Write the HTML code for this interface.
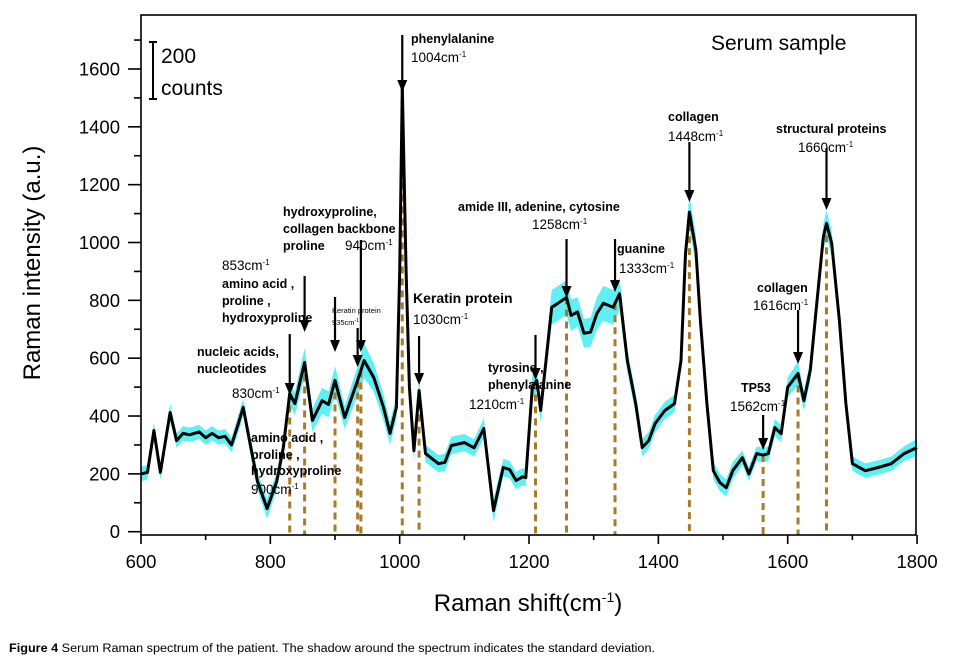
<!DOCTYPE html>
<html><head><meta charset="utf-8"><style>
body{margin:0;background:#fff}
svg{display:block;font-family:"Liberation Sans",Arial,sans-serif}
.b{font-weight:bold;font-size:12.5px}
.n{font-size:13.5px}
</style></head><body>
<svg id="chart" width="964" height="668" viewBox="0 0 964 668">
<g id="band"></g>
<g id="dashes"></g>
<g id="line"></g>
<rect x="141" y="15" width="775" height="520" fill="none" stroke="#000" stroke-width="1.6"/>
<g id="axes"></g>
<g id="ann"></g>
<text x="711" y="50" font-size="21">Serum sample</text>
<g>
<line x1="153" y1="42" x2="153" y2="99" stroke="#000" stroke-width="2"/>
<line x1="149" y1="42" x2="157" y2="42" stroke="#000" stroke-width="2"/>
<line x1="149" y1="99" x2="157" y2="99" stroke="#000" stroke-width="2"/>
<text x="161" y="63" font-size="21">200</text>
<text x="161" y="95" font-size="21">counts</text>
</g>
<text transform="translate(40,263) rotate(-90)" text-anchor="middle" font-size="24">Raman intensity (a.u.)</text>
<text x="528" y="611" text-anchor="middle" font-size="24">Raman shift(cm<tspan dy="-9" font-size="14">-1</tspan><tspan dy="9">)</tspan></text>
<text x="9" y="652" font-size="11.5" textLength="646" lengthAdjust="spacingAndGlyphs"><tspan font-weight="bold">Figure 4</tspan> Serum Raman spectrum of the patient. The shadow around the spectrum indicates the standard deviation.</text>
</svg>
<script>
const shifts=[600,610,620,630,645,655,665,675,690,700,710,720,730,740,750,758,770,780,795,810,820,830,838,853,865,880,890,900,915,935,945,960,975,985,995,1000,1004,1010,1015,1022,1030,1040,1060,1070,1080,1100,1115,1130,1145,1160,1170,1180,1190,1195,1205,1212,1218,1228,1235,1245,1258,1265,1275,1285,1295,1305,1315,1330,1340,1352,1365,1375,1385,1395,1410,1425,1435,1442,1448,1458,1465,1475,1485,1495,1505,1515,1530,1540,1552,1562,1570,1580,1590,1600,1616,1625,1635,1645,1655,1660,1668,1680,1690,1700,1720,1740,1760,1780,1800];
const intensity=[200,205,350,205,412,315,340,335,345,325,340,325,330,300,370,430,290,175,80,175,290,478,443,585,385,453,440,523,395,523,592,533,430,340,430,900,1540,900,500,280,488,270,235,240,298,308,290,357,73,222,215,177,190,187,500,523,419,627,776,790,810,748,760,686,690,755,790,776,823,592,443,291,315,374,419,443,592,962,1105,973,730,443,211,170,152,211,256,200,270,265,270,360,339,500,547,453,558,790,1018,1066,997,730,443,235,211,222,235,270,291];
const stdev=[25,25,30,25,30,25,25,25,25,25,25,25,25,25,30,30,30,30,35,30,30,40,40,50,40,45,45,50,40,50,60,50,45,40,40,80,120,80,50,35,40,30,30,30,30,30,30,35,40,30,30,30,30,30,40,40,40,50,60,60,60,55,50,50,50,55,60,60,55,40,35,30,30,30,30,30,35,50,60,50,40,30,30,30,30,30,25,25,25,25,25,30,30,35,40,35,35,40,45,45,45,40,30,25,25,25,25,25,30];
const xTicks=[600,800,1000,1200,1400,1600,1800];
const yTicks=[0,200,400,600,800,1000,1200,1400,1600];
const peaks=[830,853,900,935,940,1004,1030,1210,1258,1333,1448,1562,1616,1660];
const NS='http://www.w3.org/2000/svg';
const X=v=>141+(v-600)*0.6467;
const Y=v=>531.7-v*0.2892;
function mk(tag,attrs,parent){const e=document.createElementNS(NS,tag);for(const k in attrs)e.setAttribute(k,attrs[k]);parent.appendChild(e);return e;}
function interp(v){for(let i=0;i<shifts.length-1;i++){if(v>=shifts[i]&&v<=shifts[i+1]){const t=(v-shifts[i])/(shifts[i+1]-shifts[i]);return intensity[i]+t*(intensity[i+1]-intensity[i]);}}return 0;}
const up=shifts.map((s,i)=>X(s).toFixed(1)+','+Y(intensity[i]+stdev[i]).toFixed(1));
const dn=shifts.map((s,i)=>X(s).toFixed(1)+','+Y(intensity[i]-stdev[i]).toFixed(1)).reverse();
const band=mk('polygon',{points:up.concat(dn).join(' '),fill:'#5ff0f5'},document.getElementById('band'));


const ln=mk('polyline',{points:shifts.map((s,i)=>X(s).toFixed(1)+','+Y(intensity[i]).toFixed(1)).join(' '),fill:'none',stroke:'#000','stroke-width':3,'stroke-linejoin':'round'},document.getElementById('line'));


const dg=document.getElementById('dashes');
peaks.forEach(p=>{const d=mk('line',{x1:X(p),x2:X(p),y1:Y(interp(p)),y2:535,stroke:'#a67c2a','stroke-width':3,'stroke-dasharray':'7,5'},dg);

});
const ax=document.getElementById('axes');


for(let v=600;v<=1800;v+=100){const maj=v%200===0;mk('line',{x1:X(v),x2:X(v),y1:535,y2:maj?544:540,stroke:'#000','stroke-width':1.6},ax);}
xTicks.forEach(v=>{const t=mk('text',{x:X(v),y:568,'text-anchor':'middle','font-size':18.5},ax);t.textContent=v;

});
for(let v=0;v<=1700;v+=100){const maj=v%200===0;mk('line',{x1:maj?128:134,x2:141,y1:Y(v),y2:Y(v),stroke:'#000','stroke-width':1.6},ax);}
yTicks.forEach(v=>{const t=mk('text',{x:120,y:Y(v)+6.5,'text-anchor':'end','font-size':18.5},ax);t.textContent=v;

});
const ann=document.getElementById('ann');
function arrow(x,y1,y2){mk('line',{x1:x,x2:x,y1:y1,y2:y2-10,stroke:'#000','stroke-width':2.2},ann);mk('polygon',{points:`${x-5},${y2-12} ${x+5},${y2-12} ${x},${y2}`,fill:'#000'},ann);}
function txt(x,y,s,cls,anchor){const t=mk('text',{x:x,y:y,class:cls||'b','text-anchor':anchor||'start'},ann);t.innerHTML=s;return t;}
const cm='cm<tspan dy="-5" font-size="8">-1</tspan>';
arrow(X(830),334,395);txt(197,356,'nucleic acids,');txt(197,373,'nucleotides');txt(232,398,'830'+cm,'n');
arrow(X(853),276,332);txt(222,270,'853'+cm,'n');txt(222,288,'amino acid ,');txt(222,305,'proline ,');txt(222,322,'hydroxyproline');
arrow(X(900),297,352);txt(251,442,'amino acid ,');txt(251,459,'proline ,');txt(251,475,'hydroxyproline');txt(251,494,'900'+cm,'n');
arrow(X(935),328,367);
const kt=txt(332,313,'Keratin protein','b');kt.setAttribute('style','font-size:7.5px;font-weight:normal');
const kt2=txt(332,325,'935cm<tspan dy="-3" font-size="5">-1</tspan>','b');kt2.setAttribute('style','font-size:7.5px;font-weight:normal');
arrow(X(940),240,352);txt(283,216,'hydroxyproline,');txt(283,233,'collagen backbone');txt(283,250,'proline');txt(345,250,'940'+cm,'n');
arrow(X(1004),35,92);txt(411,43,'phenylalanine');txt(411,62,'1004'+cm,'n');
arrow(X(1030),336,385);const k3=txt(413,303,'Keratin protein');k3.setAttribute('style','font-size:14px');txt(413,324,'1030'+cm,'n');
arrow(X(1210),335,380);txt(488,372,'tyrosine ,');txt(488,389,'phenylalanine');txt(469,409,'1210'+cm,'n');
arrow(X(1258),239,298);txt(458,211,'amide III, adenine, cytosine');txt(532,229,'1258'+cm,'n');
arrow(X(1333),239,292);txt(617,253,'guanine');txt(619,273,'1333'+cm,'n');
arrow(X(1448),142,202);txt(668,121,'collagen');txt(668,141,'1448'+cm,'n');
arrow(X(1562),415,450);txt(741,392,'TP53');txt(730,411,'1562'+cm,'n');
arrow(X(1616),310,364);txt(757,292,'collagen');txt(753,310,'1616'+cm,'n');
arrow(X(1660),148,210);txt(776,133,'structural proteins');txt(798,152,'1660'+cm,'n');
</script>
</body></html>
